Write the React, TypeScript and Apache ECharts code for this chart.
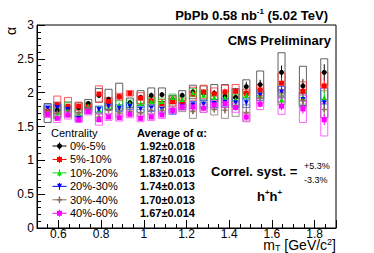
import React, { useEffect, useRef } from "react";
import * as echarts from "echarts";

// ---- data ----
const mT = [0.55, 0.595, 0.645, 0.695, 0.74, 0.79, 0.835, 0.885, 0.935, 0.985, 1.035, 1.085, 1.135, 1.18, 1.23, 1.28, 1.33, 1.38, 1.43, 1.48, 1.545, 1.645, 1.745, 1.845];

const centralities = ["0%-5%", "5%-10%", "10%-20%", "20%-30%", "30%-40%", "40%-60%"];
const averages = ["1.92±0.018", "1.87±0.016", "1.83±0.013", "1.74±0.013", "1.70±0.013", "1.67±0.014"];

const alpha0_5 = [1.70, 1.74, 1.76, 1.78, 1.84, 1.96, 1.90, 1.94, 1.85, 1.93, 1.96, 1.97, 1.90, 1.96, 2.01, 1.99, 1.99, 1.95, 1.93, 2.09, 2.12, 2.30, 2.10, 2.30];
const stat0_5 = [0.03, 0.03, 0.03, 0.03, 0.03, 0.04, 0.04, 0.04, 0.04, 0.04, 0.04, 0.04, 0.04, 0.04, 0.05, 0.05, 0.05, 0.05, 0.06, 0.07, 0.07, 0.10, 0.10, 0.12];
const syst0_5 = [0.14, 0.12, 0.10, 0.07, 0.06, 0.10, 0.15, 0.20, 0.07, 0.10, 0.11, 0.10, 0.06, 0.07, 0.10, 0.11, 0.13, 0.17, 0.13, 0.10, 0.20, 0.29, 0.29, 0.20];

const alpha5_10 = [1.73, 1.82, 1.80, 1.80, 1.79, 1.98, 1.87, 1.94, 1.99, 1.92, 1.88, 1.84, 1.87, 1.85, 1.98, 2.01, 1.98, 2.01, 2.02, 1.99, 2.04, 2.14, 2.02, 2.10];
const stat5_10 = [0.03, 0.03, 0.03, 0.03, 0.03, 0.03, 0.03, 0.03, 0.03, 0.04, 0.04, 0.04, 0.04, 0.04, 0.04, 0.04, 0.05, 0.05, 0.05, 0.06, 0.06, 0.08, 0.09, 0.10];
const syst5_10 = [0.06, 0.13, 0.13, 0.06, 0.05, 0.12, 0.06, 0.05, 0.04, 0.08, 0.06, 0.06, 0.07, 0.07, 0.10, 0.10, 0.09, 0.10, 0.10, 0.06, 0.08, 0.15, 0.14, 0.20];

const alpha10_20 = [1.72, 1.70, 1.76, 1.70, 1.80, 1.75, 1.80, 1.82, 1.84, 1.84, 1.87, 1.87, 1.93, 1.90, 2.00, 1.96, 1.93, 1.93, 1.90, 1.96, 1.97, 1.90, 1.93, 1.93];
const stat10_20 = [0.02, 0.02, 0.02, 0.02, 0.02, 0.03, 0.03, 0.03, 0.03, 0.03, 0.03, 0.03, 0.03, 0.03, 0.03, 0.04, 0.04, 0.04, 0.04, 0.05, 0.05, 0.06, 0.07, 0.08];
const syst10_20 = [0.06, 0.07, 0.10, 0.05, 0.05, 0.05, 0.06, 0.06, 0.05, 0.06, 0.06, 0.05, 0.05, 0.05, 0.06, 0.07, 0.06, 0.07, 0.07, 0.06, 0.08, 0.08, 0.10, 0.10];

const alpha20_30 = [1.77, 1.78, 1.75, 1.62, 1.74, 1.75, 1.80, 1.77, 1.80, 1.76, 1.77, 1.75, 1.72, 1.80, 1.82, 1.83, 1.84, 1.86, 1.85, 1.85, 1.96, 2.01, 1.90, 1.85];
const stat20_30 = [0.02, 0.02, 0.02, 0.02, 0.02, 0.03, 0.03, 0.03, 0.03, 0.03, 0.03, 0.03, 0.03, 0.03, 0.03, 0.04, 0.04, 0.04, 0.04, 0.05, 0.05, 0.06, 0.07, 0.08];
const syst20_30 = [0.05, 0.05, 0.05, 0.04, 0.05, 0.05, 0.05, 0.05, 0.05, 0.05, 0.05, 0.05, 0.04, 0.05, 0.05, 0.06, 0.06, 0.06, 0.07, 0.07, 0.08, 0.08, 0.10, 0.22];

const alpha30_40 = [1.72, 1.70, 1.72, 1.70, 1.77, 1.64, 1.74, 1.70, 1.72, 1.70, 1.74, 1.74, 1.76, 1.78, 1.72, 1.78, 1.75, 1.74, 1.80, 1.70, 1.92, 1.95, 1.88, 1.75];
const stat30_40 = [0.03, 0.03, 0.03, 0.03, 0.03, 0.03, 0.03, 0.03, 0.03, 0.03, 0.03, 0.03, 0.04, 0.04, 0.04, 0.04, 0.05, 0.05, 0.06, 0.10, 0.06, 0.08, 0.09, 0.10];
const syst30_40 = [0.08, 0.08, 0.08, 0.06, 0.06, 0.06, 0.06, 0.06, 0.05, 0.05, 0.06, 0.06, 0.06, 0.06, 0.10, 0.07, 0.08, 0.12, 0.15, 0.12, 0.08, 0.10, 0.10, 0.12];

const alpha40_60 = [1.68, 1.62, 1.67, 1.60, 1.72, 1.60, 1.64, 1.63, 1.68, 1.62, 1.64, 1.67, 1.74, 1.79, 1.79, 1.77, 1.82, 1.84, 1.78, 1.64, 1.83, 1.80, 1.76, 1.60];
const stat40_60 = [0.02, 0.02, 0.02, 0.02, 0.02, 0.03, 0.03, 0.03, 0.03, 0.03, 0.03, 0.03, 0.03, 0.03, 0.03, 0.04, 0.04, 0.04, 0.04, 0.05, 0.05, 0.06, 0.07, 0.08];
const syst40_60 = [0.05, 0.06, 0.06, 0.04, 0.05, 0.08, 0.05, 0.05, 0.05, 0.05, 0.05, 0.05, 0.05, 0.05, 0.05, 0.06, 0.06, 0.06, 0.07, 0.07, 0.08, 0.12, 0.20, 0.24];

const FONT = "'Liberation Sans', Arial, Helvetica, sans-serif";

const TRI_UP = "path://M5,0L10,9L0,9Z";
const TRI_DOWN = "path://M0,0L10,0L5,9Z";
const CROSS = "path://M3.5,0H6.5V3.5H10V6.5H6.5V10H3.5V6.5H0V3.5H3.5Z";

const groups = [
  { name: centralities[0], v: alpha0_5, st: stat0_5, sy: syst0_5, color: "#000000", box: "#3a3a3a", symbol: "circle", size: 5 },
  { name: centralities[1], v: alpha5_10, st: stat5_10, sy: syst5_10, color: "#ff0000", box: "#ff3030", symbol: "rect", size: 5 },
  { name: centralities[2], v: alpha10_20, st: stat10_20, sy: syst10_20, color: "#00e000", box: "#30d030", symbol: TRI_UP, size: 5 },
  { name: centralities[3], v: alpha20_30, st: stat20_30, sy: syst20_30, color: "#0000ff", box: "#3050ff", symbol: TRI_DOWN, size: 5 },
  { name: centralities[4], v: alpha30_40, st: stat30_40, sy: syst30_40, color: "#8a6a5a", box: "#8a7a70", symbol: CROSS, size: 5 },
  { name: centralities[5], v: alpha40_60, st: stat40_60, sy: syst40_60, color: "#ff00ff", box: "#ff40ff", symbol: "rect", size: 5 },
];

function legendMarker(i: number, cx: number, cy: number, color: string): any {
  const s = 2.5;
  if (i === 0) return { type: "circle", shape: { cx, cy, r: s }, style: { fill: color } };
  if (i === 1 || i === 5) return { type: "rect", shape: { x: cx - s, y: cy - s, width: 2 * s, height: 2 * s }, style: { fill: color } };
  if (i === 2) return { type: "polygon", shape: { points: [[cx, cy - s], [cx + s, cy + s], [cx - s, cy + s]] }, style: { fill: color } };
  if (i === 3) return { type: "polygon", shape: { points: [[cx - s, cy - s], [cx + s, cy - s], [cx, cy + s]] }, style: { fill: color } };
  return {
    type: "polygon",
    shape: {
      points: [[cx - 0.8, cy - s], [cx + 0.8, cy - s], [cx + 0.8, cy - 0.8], [cx + s, cy - 0.8], [cx + s, cy + 0.8], [cx + 0.8, cy + 0.8], [cx + 0.8, cy + s], [cx - 0.8, cy + s], [cx - 0.8, cy + 0.8], [cx - s, cy + 0.8], [cx - s, cy - 0.8], [cx - 0.8, cy - 0.8]],
    },
    style: { fill: color },
  };
}

export default function App() {
  const ref = useRef<HTMLDivElement>(null);
  useEffect(() => {
    if (!ref.current) return;
    const chart = echarts.init(ref.current, null, { renderer: "svg" });

    const series: any[] = [];
    groups.forEach((g) => {
      series.push({
        type: "custom",
        name: g.name + " syst",
        coordinateSystem: "cartesian2d",
        silent: true,
        z: 2,
        encode: { x: 0, y: 1 },
        data: mT.map((x, i) => [x, g.v[i], g.st[i], g.sy[i]]),
        renderItem: (params: any, api: any) => {
          const x = api.value(0);
          const y = api.value(1);
          const st = api.value(2);
          const sy = api.value(3);
          const c = api.coord([x, y]);
          const t = api.coord([x, y + sy]);
          const b = api.coord([x, y - sy]);
          const s1 = api.coord([x, y + st]);
          const s2 = api.coord([x, y - st]);
          return {
            type: "group",
            children: [
              { type: "rect", shape: { x: c[0] - 3.5, y: t[1], width: 7, height: b[1] - t[1] }, style: { fill: "none", stroke: g.box, lineWidth: 1, opacity: 0.8 } },
              { type: "line", shape: { x1: c[0], y1: s1[1], x2: c[0], y2: s2[1] }, style: { stroke: g.color, lineWidth: 1 } },
            ],
          };
        },
      });
    });
    groups.forEach((g) => {
      series.push({
        type: "scatter",
        name: g.name,
        z: 3,
        symbol: g.symbol,
        symbolSize: g.size,
        itemStyle: { color: g.color, opacity: 1 },
        data: mT.map((x, i) => [x, g.v[i]]),
      });
    });

    const graphics: any[] = [];
    // titles
    graphics.push({
      type: "text", x: 328, y: 15,
      style: {
        text: "{b|PbPb 0.58 nb}{s|-1}{b| (5.02 TeV)}", align: "right", verticalAlign: "middle", textAlign: "right", textVerticalAlign: "middle",
        rich: {
          b: { fontFamily: FONT, fontWeight: "bold", fontSize: 13, fill: "#000", lineHeight: 15 },
          s: { fontFamily: FONT, fontWeight: "bold", fontSize: 8, fill: "#000", verticalAlign: "top", lineHeight: 9 },
        },
      },
    });
    graphics.push({ type: "text", x: 331, y: 40, style: { text: "CMS Preliminary", fontFamily: FONT, fontWeight: "bold", fontSize: 13, fill: "#000", align: "right", verticalAlign: "middle", textAlign: "right", textVerticalAlign: "middle" } });
    graphics.push({ type: "text", x: 11, y: 31, rotation: Math.PI / 2, style: { text: "α", fontFamily: FONT, fontSize: 14, fill: "#000", align: "center", verticalAlign: "middle", textAlign: "center", textVerticalAlign: "middle" } });
    graphics.push({
      type: "text", x: 336, y: 245,
      style: {
        text: "{n|m}{d|T}{n| [GeV/c}{u|2}{n|]}", align: "right", verticalAlign: "middle", textAlign: "right", textVerticalAlign: "middle",
        rich: {
          n: { fontFamily: FONT, fontSize: 14, fill: "#000", lineHeight: 15 },
          d: { fontFamily: FONT, fontSize: 9, fill: "#000", verticalAlign: "bottom", lineHeight: 9 },
          u: { fontFamily: FONT, fontSize: 9, fill: "#000", verticalAlign: "top", lineHeight: 9 },
        },
      },
    });

    // legend
    graphics.push({ type: "text", x: 51, y: 133, style: { text: "Centrality", fontFamily: FONT, fontSize: 11, fill: "#000", align: "left", verticalAlign: "middle", textAlign: "left", textVerticalAlign: "middle" } });
    graphics.push({ type: "text", x: 137, y: 133, style: { text: "Average of α:", fontFamily: FONT, fontWeight: "bold", fontSize: 11, fill: "#000", align: "left", verticalAlign: "middle", textAlign: "left", textVerticalAlign: "middle" } });
    groups.forEach((g, i) => {
      const y = 146 + i * 13.45;
      graphics.push({ type: "line", shape: { x1: 52.5, y1: y, x2: 66.5, y2: y }, style: { stroke: g.color, lineWidth: 1 } });
      graphics.push({ type: "line", shape: { x1: 59.5, y1: y - 3.5, x2: 59.5, y2: y + 3.5 }, style: { stroke: g.color, lineWidth: 1 } });
      graphics.push(legendMarker(i, 59.5, y, g.color));
      graphics.push({ type: "text", x: 70, y, style: { text: g.name, fontFamily: FONT, fontSize: 11, fill: "#000", align: "left", verticalAlign: "middle", textAlign: "left", textVerticalAlign: "middle" } });
      graphics.push({ type: "text", x: 140, y, style: { text: averages[i], fontFamily: FONT, fontWeight: "bold", fontSize: 11, fill: "#000", align: "left", verticalAlign: "middle", textAlign: "left", textVerticalAlign: "middle" } });
    });

    graphics.push({ type: "text", x: 211, y: 171, style: { text: "Correl. syst. =", fontFamily: FONT, fontWeight: "bold", fontSize: 13, fill: "#000", align: "left", verticalAlign: "middle", textAlign: "left", textVerticalAlign: "middle" } });
    graphics.push({ type: "text", x: 304, y: 166, style: { text: "+5.3%", fontFamily: FONT, fontSize: 9, fill: "#000", align: "left", verticalAlign: "middle", textAlign: "left", textVerticalAlign: "middle" } });
    graphics.push({ type: "text", x: 304, y: 180, style: { text: "-3.3%", fontFamily: FONT, fontSize: 9, fill: "#000", align: "left", verticalAlign: "middle", textAlign: "left", textVerticalAlign: "middle" } });
    graphics.push({
      type: "text", x: 257, y: 196,
      style: {
        text: "{b|h}{s|+}{b|h}{s|+}", align: "left", verticalAlign: "middle", textAlign: "left", textVerticalAlign: "middle",
        rich: {
          b: { fontFamily: FONT, fontWeight: "bold", fontSize: 13, fill: "#000", lineHeight: 15 },
          s: { fontFamily: FONT, fontWeight: "bold", fontSize: 8, fill: "#000", verticalAlign: "top", lineHeight: 9 },
        },
      },
    });

    chart.setOption({
      animation: false,
      backgroundColor: "#ffffff",
      grid: { left: 37, right: 38, top: 25, bottom: 25, show: true, borderColor: "#000", borderWidth: 1, backgroundColor: "transparent", containLabel: false },
      xAxis: {
        type: "value", min: 0.5, max: 1.9, minInterval: 0.2, maxInterval: 0.2, splitNumber: 7,
        axisLine: { show: true, onZero: false, lineStyle: { color: "#000", width: 1 } },
        axisTick: { show: true, inside: true, length: 8, lineStyle: { color: "#000" } },
        minorTick: { show: true, splitNumber: 4, length: 4, lineStyle: { color: "#000" } },
        splitLine: { show: false },
        axisLabel: { showMinLabel: false, showMaxLabel: false, fontFamily: FONT, fontSize: 12, lineHeight: 11, color: "#000", margin: 0, formatter: (v: number) => String(Math.round(v * 10) / 10) },
      },
      yAxis: {
        type: "value", min: 0, max: 3, interval: 0.5,
        axisLine: { show: true, lineStyle: { color: "#000", width: 1 } },
        axisTick: { show: true, inside: true, length: 8, lineStyle: { color: "#000" } },
        minorTick: { show: true, splitNumber: 5, length: 4, lineStyle: { color: "#000" } },
        splitLine: { show: false },
        axisLabel: { fontFamily: FONT, fontSize: 12, color: "#000", margin: 3, formatter: (v: number) => String(v) },
      },
      graphic: graphics,
      series,
    });
    return () => chart.dispose();
  }, []);
  return <div ref={ref} style={{ position: "absolute", left: 0, top: 0, width: 374, height: 253 }} />;
}
